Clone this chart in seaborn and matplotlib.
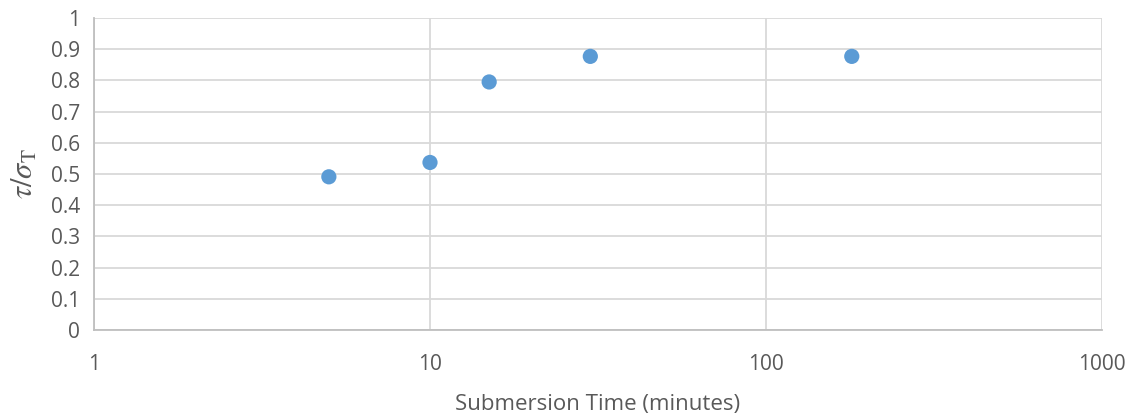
import matplotlib
matplotlib.use("Agg")
import matplotlib.pyplot as plt
import seaborn as sns
import pandas as pd
from matplotlib.ticker import FixedLocator, FixedFormatter, NullLocator

# Measured ratio of shear stress to tensile strength against submersion time
submersion_minutes = [5, 10, 15, 30, 180]
stress_ratio = [0.491, 0.537, 0.795, 0.877, 0.877]

x_ticks = [1, 10, 100, 1000]
x_tick_labels = ["1", "10", "100", "1000"]
y_ticks = [0, 0.1, 0.2, 0.3, 0.4, 0.5, 0.6, 0.7, 0.8, 0.9, 1.0]
y_tick_labels = ["0", "0.1", "0.2", "0.3", "0.4", "0.5", "0.6", "0.7", "0.8", "0.9", "1"]

df = pd.DataFrame({"time": submersion_minutes, "ratio": stress_ratio})

sns.set_style("white")
plt.rcParams["font.family"] = ["Open Sans", "DejaVu Sans"]
plt.rcParams["mathtext.fontset"] = "stix"

fig = plt.figure(figsize=(11.32, 4.16), dpi=100)
ax = fig.add_axes([94 / 1132, 86 / 416, 1008 / 1132, 312 / 416])

sns.scatterplot(data=df, x="time", y="ratio", ax=ax, s=120, color="#5b9bd5",
                edgecolor="none", zorder=3, legend=False)

ax.set_xscale("log")
ax.set_xlim(1, 1000)
ax.set_ylim(0, 1)
ax.xaxis.set_major_locator(FixedLocator(x_ticks))
ax.xaxis.set_major_formatter(FixedFormatter(x_tick_labels))
ax.xaxis.set_minor_locator(NullLocator())
ax.yaxis.set_major_locator(FixedLocator(y_ticks))
ax.yaxis.set_major_formatter(FixedFormatter(y_tick_labels))

ax.grid(True, which="major", color="#d9d9d9", linewidth=1.3)
ax.set_axisbelow(True)
for side in ["top", "right"]:
    ax.spines[side].set_visible(False)
for side in ["left", "bottom"]:
    ax.spines[side].set_color("#bfbfbf")
    ax.spines[side].set_linewidth(1.3)

ax.tick_params(axis="both", length=0, labelsize=15, colors="#595959")
ax.tick_params(axis="x", pad=17)
ax.tick_params(axis="y", pad=10)

ax.set_xlabel("Submersion Time (minutes)", fontsize=16, color="#595959", labelpad=14)
ax.set_ylabel(r"$\tau/\sigma_{\mathrm{T}}$", fontsize=22, color="#595959", labelpad=8)

fig.savefig("out.png", dpi=100)
